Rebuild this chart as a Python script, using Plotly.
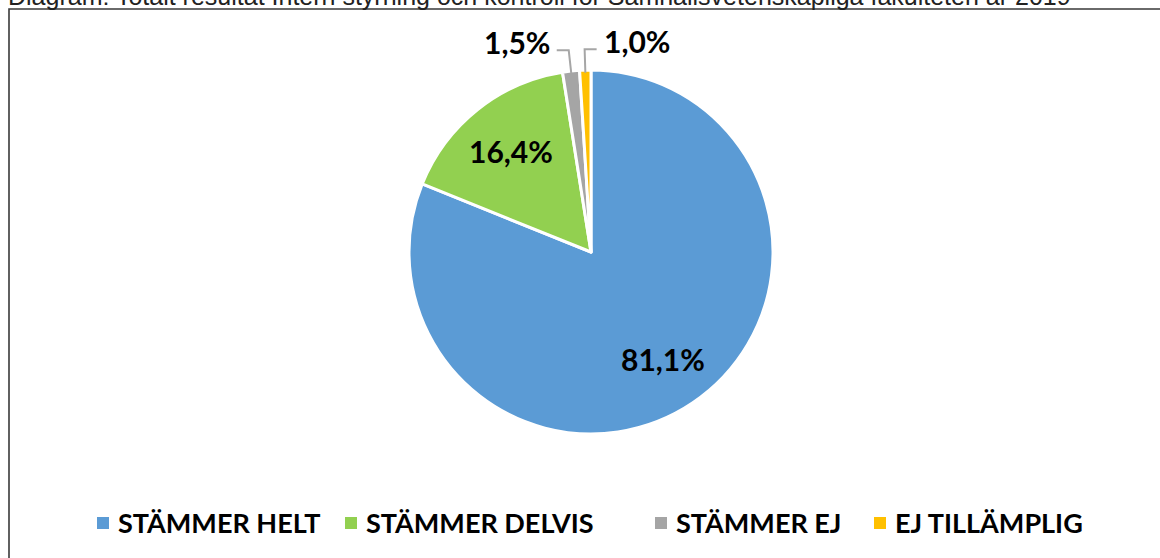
import math
import plotly.graph_objects as go

# Survey answers, share of respondents (%)
categories = ["STÄMMER HELT", "STÄMMER DELVIS", "STÄMMER EJ", "EJ TILLÄMPLIG"]
shares = [81.1, 16.4, 1.5, 1.0]
colors = ["#5B9BD5", "#92D050", "#A5A5A5", "#FFC000"]
title_text = ("Diagram: Totalt resultat Intern styrning och kontroll för "
              "Samhällsvetenskapliga fakulteten år 2019")

# Which side the outside labels of the thin slices are pulled to
outside_side = {"STÄMMER EJ": -1, "EJ TILLÄMPLIG": 1}

W, H = 1160, 558
CX, CY, R = 591, 252, 182          # pie centre and radius in px
FONT = "Lato"
LABEL_FONT = dict(family=FONT, size=30, color="black", weight="bold")

# Legend row: left edge of each key square (px), row centre, key size
LEGEND_KEY_X = [97, 345, 655, 874]
LEGEND_Y = 523
KEY = 12


def px(x):
    return x / W


def py(y):
    return 1 - y / H


def fmt(v):
    return f"{v:.1f}".replace(".", ",") + "%"


fig = go.Figure(go.Pie(
    labels=categories,
    values=shares,
    sort=False,
    direction="clockwise",
    rotation=0,
    marker=dict(colors=colors, line=dict(color="white", width=3)),
    text=[fmt(v) for v in shares],
    textinfo="none",
    hoverinfo="label+text",
    showlegend=False,
    domain=dict(x=[px(CX - R), px(CX + R)], y=[py(CY + R), py(CY - R)]),
))

# Value labels: inside for the wide slices, elbow leader lines for the thin ones
shapes = []
annotations = []
total = sum(shares)
cum = 0.0
for cat, v in zip(categories, shares):
    mid = (cum + v / 2) / total * 2 * math.pi
    cum += v
    sx, sy = math.sin(mid), -math.cos(mid)
    if cat not in outside_side:
        annotations.append(dict(
            x=px(CX + R * 0.71 * sx), y=py(CY + R * 0.71 * sy),
            xref="paper", yref="paper", text=fmt(v), showarrow=False,
            xanchor="center", yanchor="middle", font=LABEL_FONT,
        ))
        continue
    x0, y0 = CX + R * 0.985 * sx, CY + R * 0.985 * sy
    x1, y1 = CX + R * 1.115 * sx, CY + R * 1.115 * sy
    side = outside_side[cat]
    x2 = x1 + side * 12
    shapes.append(dict(
        type="path", xref="paper", yref="paper",
        path=f"M{px(x0)},{py(y0)} L{px(x1)},{py(y1)} L{px(x2)},{py(y1)}",
        line=dict(color="#A6A6A6", width=2),
    ))
    annotations.append(dict(
        x=px(x2 + side * 5), y=py(y1 - 8), xref="paper", yref="paper",
        text=fmt(v), showarrow=False,
        xanchor="right" if side < 0 else "left", yanchor="middle",
        font=LABEL_FONT,
    ))

# Legend keys and names
for cat, col, kx in zip(categories, colors, LEGEND_KEY_X):
    shapes.append(dict(
        type="rect", xref="paper", yref="paper",
        x0=px(kx), x1=px(kx + KEY),
        y0=py(LEGEND_Y + KEY / 2), y1=py(LEGEND_Y - KEY / 2),
        fillcolor=col, line=dict(width=0),
    ))
    annotations.append(dict(
        x=px(kx + KEY + 7), y=py(LEGEND_Y - 1), xref="paper", yref="paper",
        xanchor="left", yanchor="middle", text=cat, showarrow=False,
        font=dict(family=FONT, size=27, color="black", weight="bold"),
    ))

# Frame around the chart area
shapes.append(dict(
    type="rect", xref="paper", yref="paper",
    x0=px(9), y0=-0.05, x1=1.05, y1=py(9),
    line=dict(color="#3A3A3A", width=1.6), fillcolor="rgba(0,0,0,0)",
))

annotations.append(dict(
    x=px(6), y=1, xref="paper", yref="paper", xanchor="left", yanchor="bottom",
    yshift=-12, text=title_text, showarrow=False,
    font=dict(family="Liberation Sans", size=25, color="#222222"),
))

fig.update_layout(
    width=W, height=H,
    margin=dict(l=0, r=0, t=0, b=0, autoexpand=False),
    paper_bgcolor="white", plot_bgcolor="white",
    showlegend=False,
    shapes=shapes,
    annotations=annotations,
)

fig.write_html("out.html")
